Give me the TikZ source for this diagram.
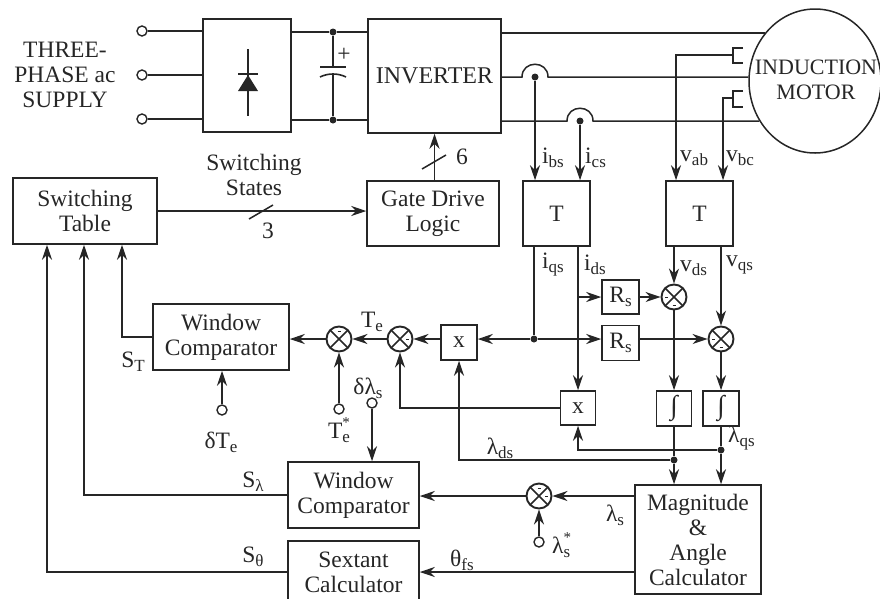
\documentclass[tikz,border=0pt]{standalone}
\usepackage{fontspec}
\setmainfont{Liberation Serif}
\usetikzlibrary{arrows.meta,shapes.geometric}
\newcommand{\lowtext}[1]{\raisebox{-4pt}{\fontsize{17}{17}\selectfont #1}}
\newcommand{\uptext}[1]{\raisebox{11pt}{\fontsize{15}{15}\selectfont #1}}
\newcommand{\minusmark}[2]{\draw[line width=0.7pt] ([shift={#2}]#1.center) -- ++(3,0);}
\tikzset{
	box/.style={draw,line width=1.5pt,inner sep=0pt,align=center,font=\fontsize{23.5}{25}\selectfont},
	sumnode/.style={circle,draw,line width=1.9pt,inner sep=0pt,minimum size=25pt,
		path picture={\draw[line width=1.5pt] (path picture bounding box.north west) -- (path picture bounding box.south east)
			(path picture bounding box.north east) -- (path picture bounding box.south west);}},
	dot/.style={circle,fill,inner sep=0pt,minimum size=7pt},
	term/.style={circle,draw,line width=1.4pt,inner sep=0pt,minimum size=10pt},
	wire/.style={line width=1.5pt},
	sig/.style={line width=1.5pt,-{Stealth[length=15pt,width=10pt]}},
	lab/.style={inner sep=0pt,font=\fontsize{23.5}{25}\selectfont,align=center}
}
\begin{document}
\begin{tikzpicture}[x=1pt,y=-1pt,color=black!85]
	\useasboundingbox (0,0) rectangle (880,598);
	% power stage
	\node[term] (inone) at (142,31) {};
	\node[term] (intwo) at (142,75) {};
	\node[term] (inthree) at (142,119) {};
	\node[box,minimum width=88pt,minimum height=113pt] (rect) at (247,75.5) {};
	\node[box,minimum width=133pt,minimum height=114pt,font=\fontsize{24}{26}\selectfont] (inv) at (434.5,76) {INVERTER};
	\node[dot] (dcup) at (333,32) {};
	\node[dot] (dcdn) at (333,120) {};
	\node[ellipse,draw,line width=1.5pt,inner sep=0pt,minimum width=132pt,minimum height=144pt] (motor) at (815,81) {};
	\node[lab,font=\fontsize{22}{25}\selectfont] (lmotor) at (816,80) {INDUCTION\\MOTOR};
	\node[lab] (supply) at (65,75) {THREE-\\PHASE ac\\SUPPLY};
	\draw[wire] (inone) -- (rect.west |- inone);
	\draw[wire] (intwo) -- (rect.west |- intwo);
	\draw[wire] (inthree) -- (rect.west |- inthree);
	\draw[wire] (rect.east |- dcup) -- (dcup) -- (inv.west |- dcup);
	\draw[wire] (rect.east |- dcdn) -- (dcdn) -- (inv.west |- dcdn);
	% diode and capacitor
	\draw[wire] (248,49) -- (248,116);
	\draw[line width=1.6pt] (238,74) -- (258,74);
	\fill (248,75) -- (258,91) -- (238,91) -- cycle;
	\draw[wire] (dcup) -- (333,67);
	\draw[line width=1.6pt] (320,67) -- (346,67);
	\draw[line width=1.6pt] (320,77) .. controls (328,73) and (338,73) .. (346,77);
	\draw[wire] (333,75) -- (dcdn);
	\node[lab] (plus) at (344,55) {+};
	% motor feeds
	\node[dot] (dibs) at (535,77) {};
	\node[dot] (dics) at (580,121) {};
	\coordinate (dtop) at (535,33);
	\draw[wire] (inv.east |- dtop) -- (motor.136 |- dtop);
	\draw[wire] (inv.east |- dibs) -- ([xshift=-13]dibs.center) .. controls ([xshift=-13,yshift=17]dibs.center) and ([xshift=13,yshift=17]dibs.center) .. ([xshift=13]dibs.center) -- (motor.177 |- dibs);
	\draw[wire] (inv.east |- dics) -- ([xshift=-13]dics.center) .. controls ([xshift=-13,yshift=17]dics.center) and ([xshift=13,yshift=17]dics.center) .. ([xshift=13]dics.center) -- (motor.216 |- dics);
	% transforms and gate logic
	\node[box,minimum width=67pt,minimum height=65pt] (tone) at (556.5,213.5) {T};
	\node[box,minimum width=67pt,minimum height=65pt] (ttwo) at (699.5,213.5) {T};
	\node[box,minimum width=132pt,minimum height=65pt] (gate) at (433,213.5) {Gate Drive\\Logic};
	\node[box,minimum width=144pt,minimum height=66pt] (table) at (85,211) {Switching\\Table};
	\node[lab] (states) at (254,175) {Switching\\States};
	\node[lab] (three) at (268,231) {3};
	\node[lab] (six) at (462,157) {6};
	\draw[sig] (dibs) -- (dibs |- tone.north);
	\draw[sig] (dics) -- (dics |- tone.north);
	\draw[sig] (table.east) -- (gate.west |- table.east);
	\draw[sig] (inv.south |- gate.north) -- (inv.south);
	\draw[wire] (249,219) -- (273,205);
	\draw[wire] (422,169) -- (446,155);
	% voltage taps
	\coordinate (tapab) at (733,55);
	\coordinate (tapbc) at (733,98);
	\draw[wire] (743,48) -- (733,48) -- (733,63) -- (743,63);
	\draw[wire] (743,91) -- (733,91) -- (733,107) -- (743,107);
	\draw[sig] (tapab) -| ([xshift=-23.5]ttwo.north);
	\draw[sig] (tapbc) -| ([xshift=23.5]ttwo.north);
	% torque and flux estimation
	\node[box,minimum width=37pt,minimum height=34pt] (rsone) at (620.5,297) {R\lowtext{s}};
	\node[box,minimum width=37pt,minimum height=35pt] (rstwo) at (620.5,343) {R\lowtext{s}};
	\node[sumnode] (sumone) at (674,297) {};
	\node[sumnode] (sumtwo) at (721,339) {};
	\node[sumnode] (sumthree) at (400,339) {};
	\node[sumnode] (sumfour) at (339,339) {};
	\node[sumnode] (sumfive) at (539,496) {};
	\node[box,minimum width=36pt,minimum height=35pt] (xone) at (459,342.5) {x};
	\node[box,minimum width=35pt,minimum height=34pt] (xtwo) at (578,408) {x};
	\node[box,minimum width=35pt,minimum height=35pt,font=\fontsize{27}{27}\selectfont] (ione) at (674,408.5) {∫};
	\node[box,minimum width=36pt,minimum height=35pt,font=\fontsize{27}{27}\selectfont] (itwo) at (721,408.5) {∫};
	\node[dot] (dmul) at (534,339) {};
	\node[dot] (dlds) at (674,460) {};
	\node[dot] (dlqs) at (721,450) {};
	\node[box,minimum width=136pt,minimum height=66pt] (wcone) at (221,337) {Window\\Comparator};
	\node[box,minimum width=131pt,minimum height=66pt] (wctwo) at (353.5,495) {Window\\Comparator};
	\node[box,minimum width=131pt,minimum height=62pt] (sext) at (353.5,572) {Sextant\\Calculator};
	\node[box,minimum width=126pt,minimum height=109pt] (mag) at (698,539.5) {Magnitude\\\&\\Angle\\Calculator};
	\node[term] (termte) at (222,410) {};
	\node[term] (termtes) at (339,409) {};
	\node[term] (termls) at (372,403) {};
	\node[term] (termlam) at (539,542) {};
	\minusmark{sumone}{(-1.5,8)}
	\minusmark{sumone}{(-9,0)}
	\minusmark{sumtwo}{(-1.5,8)}
	\minusmark{sumtwo}{(-9,0)}
	\minusmark{sumthree}{(6,0)}
	\minusmark{sumfour}{(-1.5,-8)}
	\minusmark{sumfive}{(6,0)}
	\minusmark{sumfive}{(-1.5,-8)}
	\draw[wire] (dmul |- tone.south) -- (dmul);
	\draw[sig] (xtwo |- tone.south) -- (xtwo.north);
	\draw[sig] (xtwo |- rsone) -- (rsone.west);
	\draw[sig] (rsone.east) -- (sumone);
	\draw[sig] (sumone |- ttwo.south) -- (sumone);
	\draw[sig] (sumtwo |- ttwo.south) -- (sumtwo);
	\draw[sig] (dmul) -- (rstwo.west |- dmul);
	\draw[sig] (rstwo.east |- dmul) -- (sumtwo);
	\draw[sig] (dmul) -- (xone.east |- dmul);
	\draw[sig] (xone.west |- sumthree) -- (sumthree);
	\draw[sig] (sumthree) -- (sumfour);
	\draw[sig] (sumfour) -- (wcone.east |- sumfour);
	\draw[sig] (xtwo.west) -| (sumthree.south);
	\draw[sig] (sumone) -- (ione.north);
	\draw[sig] (sumtwo) -- (itwo.north);
	\draw[wire] (ione.south) -- (dlds);
	\draw[wire] (itwo.south) -- (dlqs);
	\draw[sig] (dlds) -- (dlds |- mag.north);
	\draw[sig] (dlqs) -- (dlqs |- mag.north);
	\draw[sig] (dlds) -| (xone.south);
	\draw[sig] (dlqs) -| (xtwo.south);
	\draw[sig] (termte) -- (termte |- wcone.south);
	\draw[sig] (termtes) -- (sumfour);
	\draw[sig] (termls) -- (termls |- wctwo.north);
	\draw[sig] (termlam) -- (sumfive);
	\draw[sig] (mag.west |- sumfive) -- (sumfive);
	\draw[sig] (sumfive) -- (wctwo.east |- sumfive);
	\draw[sig] (mag.west |- sext) -- (sext.east);
	% back to the switching table
	\draw[sig] (wcone.west) -| ([xshift=37]table.south);
	\draw[sig] (wctwo.west) -| ([xshift=-1]table.south);
	\draw[sig] (sext.west) -| ([xshift=-38]table.south);
	% labels
	\node[lab,anchor=west] (libs) at (542,158) {i\lowtext{bs}};
	\node[lab,anchor=west] (lics) at (585,158) {i\lowtext{cs}};
	\node[lab,anchor=west] (lvab) at (680,158) {v\lowtext{ab}};
	\node[lab,anchor=west] (lvbc) at (726,158) {v\lowtext{bc}};
	\node[lab,anchor=west] (liqs) at (542,265) {i\lowtext{qs}};
	\node[lab,anchor=west] (lids) at (584,265) {i\lowtext{ds}};
	\node[lab,anchor=west] (lvds) at (680,268) {v\lowtext{ds}};
	\node[lab,anchor=west] (lvqs) at (726,265) {v\lowtext{qs}};
	\node[lab] (lte) at (372,322) {T\lowtext{e}};
	\node[lab] (ltes) at (339,430) {T\rlap{\lowtext{e}}\uptext{*}};
	\node[lab] (ldts) at (368,388) {δλ\lowtext{s}};
	\node[lab] (ldte) at (221,442) {δT\lowtext{e}};
	\node[lab] (llds) at (500,448) {λ\lowtext{ds}};
	\node[lab,anchor=west] (llqs) at (728,438) {λ\lowtext{qs}};
	\node[lab] (lls) at (615,515) {λ\lowtext{s}};
	\node[lab,anchor=west] (llss) at (552,545) {λ\rlap{\lowtext{s}}\uptext{*}};
	\node[lab] (lth) at (462,560) {θ\lowtext{fs}};
	\node[lab] (lsl) at (253,482) {S\lowtext{λ}};
	\node[lab] (lst) at (253,557) {S\lowtext{θ}};
	\node[lab] (lsT) at (133,362) {S\lowtext{T}};
\end{tikzpicture}
\end{document}
